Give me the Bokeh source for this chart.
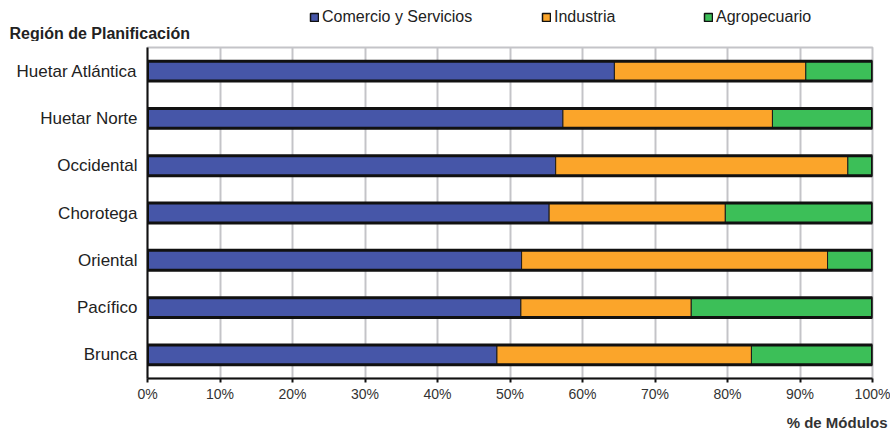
from bokeh.plotting import figure
from bokeh.layouts import column
from bokeh.models import (FactorRange, Range1d, Legend, LegendItem, Title,
                          FixedTicker, CustomJSTickFormatter, ColumnDataSource)
from bokeh.embed import file_html
from bokeh.resources import INLINE

regions = ["Huetar Atlántica", "Huetar Norte", "Occidental", "Chorotega",
           "Oriental", "Pacífico", "Brunca"]
comercio = [64.4, 57.3, 56.3, 55.4, 51.6, 51.5, 48.2]
industria = [26.4, 28.9, 40.3, 24.3, 42.2, 23.5, 35.1]
agropecuario = [9.2, 13.8, 3.4, 20.3, 6.2, 25.0, 16.7]
series_names = ["Comercio y Servicios", "Industria", "Agropecuario"]
series_cols = ["comercio", "industria", "agro"]
colors = ["#4656A8", "#FBA52A", "#3CBF58"]
x_ticks = [0, 10, 20, 30, 40, 50, 60, 70, 80, 90, 100]

FONT = "Liberation Sans"
W = 890

src = ColumnDataSource(dict(region=regions, comercio=comercio,
                            industria=industria, agro=agropecuario,
                            total=[a + b + c for a, b, c in zip(comercio, industria, agropecuario)]))

# ---------- header: legend + region title ----------
top = figure(width=W, height=41, output_backend="svg", toolbar_location=None,
             x_range=Range1d(0, 100), y_range=FactorRange(factors=regions),
             x_axis_type=None, y_axis_type=None,
             min_border_top=0, min_border_bottom=15, title_location="below")
top.grid.grid_line_color = None
top.outline_line_color = None

legend_x = [162, 394, 556]
for name, colname, col, lx in zip(series_names, series_cols, colors, legend_x):
    r = top.hbar(y="region", left=0, right=colname, height=0.42, fill_color=col,
                 line_color="#111111", line_width=1.5, source=src, visible=False)
    lg = Legend(items=[LegendItem(label=name, renderers=[r])],
                location=(lx, 0), orientation="horizontal",
                border_line_color=None, background_fill_alpha=0,
                inactive_fill_alpha=0,
                label_text_font=FONT, label_text_font_size="16px",
                label_text_color="#222222",
                glyph_width=10, glyph_height=10, label_standoff=3,
                padding=0, margin=0, label_height=12)
    top.add_layout(lg, "center")

top.title = Title(text="Región de Planificación", align="left", offset=-138,
                  standoff=-8, text_font=FONT, text_font_size="16px",
                  text_font_style="bold", text_color="#222222")

# ---------- main chart ----------
p = figure(width=W, height=397, output_backend="svg", toolbar_location=None,
           y_range=FactorRange(factors=list(reversed(regions))),
           x_range=Range1d(0, 100),
           min_border_left=147, min_border_right=18, min_border_top=6,
           min_border_bottom=60)

p.hbar_stack(series_cols, y="region", height=0.42,
             color=colors, line_color="#1a1a1a", line_width=1, source=src)
p.hbar(y="region", left=0, right="total", height=0.42, fill_color=None,
       line_color="#111111", line_width=3, source=src)

p.xaxis.ticker = FixedTicker(ticks=x_ticks)
p.xaxis.formatter = CustomJSTickFormatter(code="return tick.toFixed(0) + '%';")
p.xaxis.major_label_text_font = FONT
p.xaxis.major_label_text_font_size = "14px"
p.xaxis.major_label_text_color = "#333333"
p.xaxis.major_label_standoff = 3
p.xaxis.axis_line_color = "#111111"
p.xaxis.axis_line_width = 2
p.xaxis.major_tick_line_color = "#111111"
p.xaxis.major_tick_line_width = 2
p.xaxis.major_tick_out = 4
p.xaxis.major_tick_in = 0
p.xaxis.minor_tick_line_color = None

p.yaxis.major_label_text_font = FONT
p.yaxis.major_label_text_font_size = "17px"
p.yaxis.major_label_text_color = "#222222"
p.yaxis.axis_line_color = "#111111"
p.yaxis.axis_line_width = 2
p.yaxis.major_tick_line_color = None
p.yaxis.major_tick_out = 0
p.yaxis.major_tick_in = 0
p.yaxis.major_label_standoff = 10

p.xgrid.grid_line_color = "#c4c4c8"
p.xgrid.grid_line_width = 2
p.ygrid.grid_line_color = None
p.outline_line_color = "#c4c4c8"
p.outline_line_width = 2

xt = Title(text="% de Módulos", align="right", offset=-15, standoff=14,
           text_font=FONT, text_font_size="15px", text_font_style="bold",
           text_color="#333333")
p.add_layout(xt, "below")

layout = column(top, p, spacing=0)
open("out.html", "w").write(file_html(layout, INLINE))
